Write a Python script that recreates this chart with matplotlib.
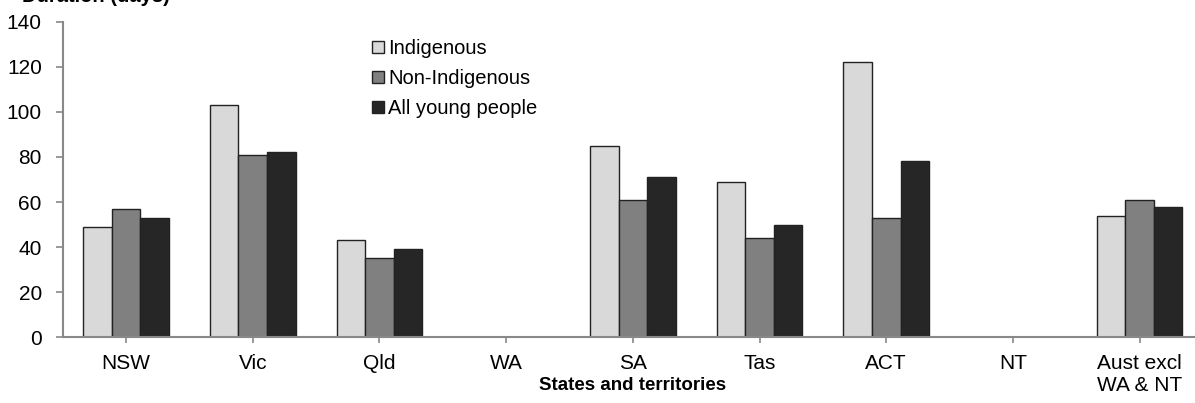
import numpy as np
from matplotlib import pyplot as plt

plt.rcParams['font.family'] = ['Liberation Sans', 'DejaVu Sans']

categories = ['NSW', 'Vic', 'Qld', 'WA', 'SA', 'Tas', 'ACT', 'NT', 'Aust excl\nWA & NT']
series_names = ['Indigenous', 'Non-Indigenous', 'All young people']
indigenous = [49, 103, 43, np.nan, 85, 69, 122, np.nan, 54]
non_indigenous = [57, 81, 35, np.nan, 61, 44, 53, np.nan, 61]
all_young = [53, 82, 39, np.nan, 71, 50, 78, np.nan, 58]
colours = ['#d9d9d9', '#808080', '#262626']

W, H = 1195, 403
fig = plt.figure(figsize=(W / 100, H / 100), dpi=100)
# axes runs a bit past the right edge, like the cropped original
left, right, top, bottom = 62.7, 1203, 21.7, 337.3
ax = fig.add_axes([left / W, 1 - bottom / H, (right - left) / W, (bottom - top) / H])

x = np.arange(len(categories))
width = 0.225
for i, (vals, name) in enumerate(zip([indigenous, non_indigenous, all_young], series_names)):
    ax.bar(x + (i - 1) * width, vals, width, color=colours[i], edgecolor='#222222',
           linewidth=1, label=name)

ax.set_xlim(-0.5, len(categories) - 0.5)
ax.set_ylim(0, 140)
ax.set_yticks(range(0, 141, 20))
ax.set_xticks(x)
ax.set_xticklabels(categories, fontsize=15, linespacing=1.2)
ax.tick_params(axis='y', labelsize=15, length=5, color='#888888', width=1.2, pad=10)
ax.tick_params(axis='x', length=4, color='#888888', width=1.2, pad=8)
for side in ['top', 'right']:
    ax.spines[side].set_visible(False)
for side in ['left', 'bottom']:
    ax.spines[side].set_color('#888888')
    ax.spines[side].set_linewidth(1.5)

fig.text(633 / W, 1 - 386 / H, 'States and territories', fontsize=13.5,
         fontweight='bold', ha='center', va='center')
fig.text(22 / W, 1 - 1.5 / H, 'Duration (days)', fontsize=14.5, fontweight='bold',
         ha='left', va='baseline')

ax.legend(loc='upper left', bbox_to_anchor=(372 / W, 1 - 39 / H),
          bbox_transform=fig.transFigure, frameon=False, fontsize=14.5,
          handlelength=0.6, handleheight=0.6, handletextpad=0.2,
          labelspacing=0.55, borderpad=0, borderaxespad=0)

fig.savefig('out.png', dpi=100)
